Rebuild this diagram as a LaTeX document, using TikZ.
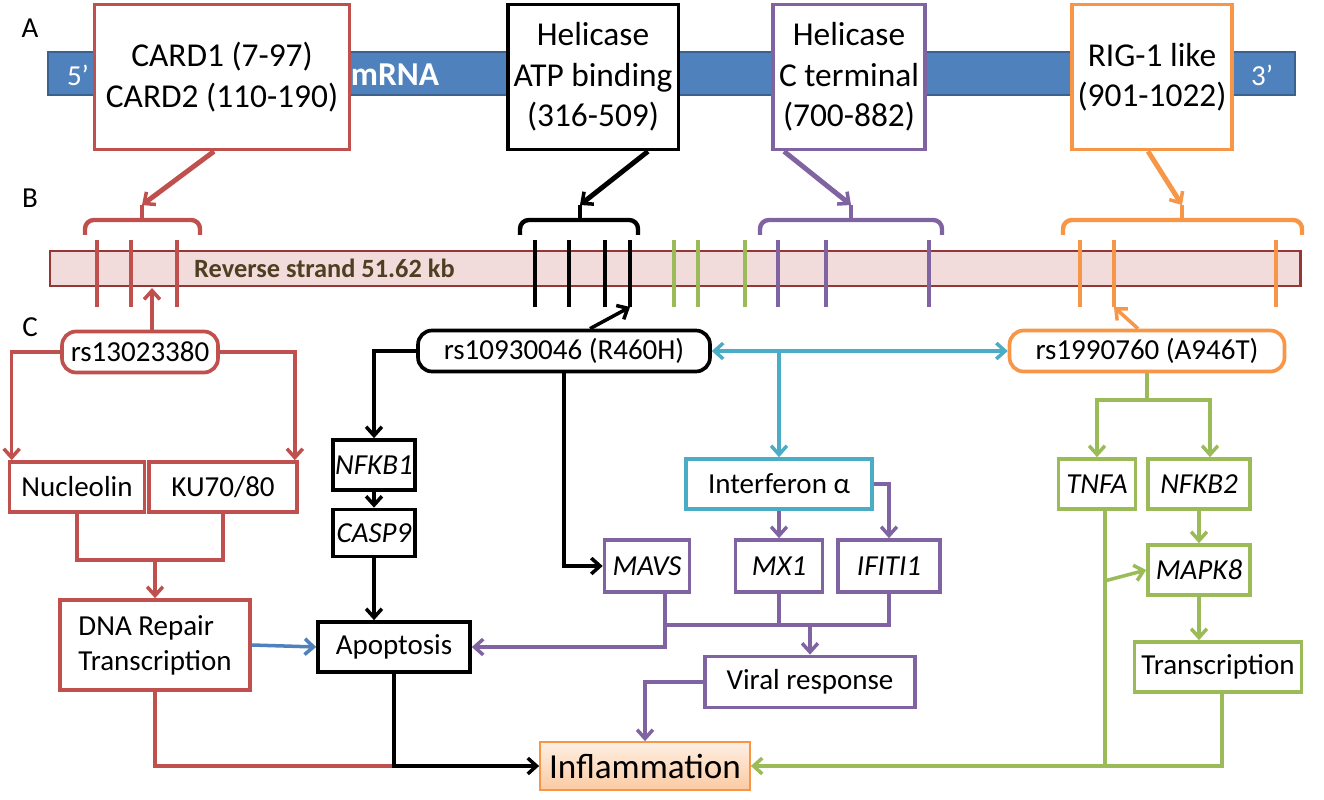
\documentclass[tikz,border=0pt]{standalone}
\usepackage{fontspec}
\setmainfont{Carlito}
\usetikzlibrary{arrows.meta, positioning, calc}
\definecolor{cred}{HTML}{C0504D}
\definecolor{cpurple}{HTML}{8064A2}
\definecolor{corange}{HTML}{F79646}
\definecolor{cgreen}{HTML}{9BBB59}
\definecolor{ccyan}{HTML}{4BACC6}
\definecolor{cblue}{HTML}{4F81BD}
\definecolor{cbar}{HTML}{F2DCDB}
\definecolor{cbarline}{HTML}{953735}
\definecolor{ctext}{HTML}{4F3F22}

\begin{document}
\begin{tikzpicture}[x=0.02cm, y=-0.02cm,
        every node/.style={font=\fontsize{16.5}{20}\selectfont},
        box/.style={draw, line width=2.1pt, fill=white, inner sep=0pt, minimum height=1cm},
        top/.style={draw, line width=2.1pt, fill=white, align=center, font=\fontsize{19}{23}\selectfont},
        conn/.style={line width=2pt, -{Straight Barb[length=5pt, width=9pt, line width=2pt]}},
        tick/.style={line width=2.8pt}
    ]
    \useasboundingbox (0,0) rectangle (1324,800);

    % section labels
    \node (lA) at (30,28) {A};
    \node (lB) at (30,198) {B};
    \node (lC) at (30,327) {C};

    % A: mRNA and domains
    \draw[fill=cblue, draw=cblue!75!black, line width=1pt] (48,52) rectangle (1295,95);
    \node[white] (five) at (78,75) {5’};
    \node[white] (three) at (1262,75) {3’};
    \node[white, font=\fontsize{19}{23}\selectfont\bfseries] (mrna) at (395,75) {mRNA};
    \node[top, draw=cred, minimum width=5.1cm, minimum height=2.9cm] (card) at (222,77) {CARD1 (7-97)\\CARD2 (110-190)};
    \node[top, minimum width=3cm, minimum height=2.9cm] (hatp) at (593,77) {Helicase\\ATP binding\\(316-509)};
    \node[top, draw=cpurple, minimum width=3.04cm, minimum height=2.9cm] (hct) at (849,77) {Helicase\\C terminal\\(700-882)};
    \node[top, draw=corange, minimum width=3.1cm, minimum height=2.9cm] (rig) at (1152,77) {RIG-1 like\\(901-1022)};

    % B: strand with exons
    \draw[fill=cbar, draw=cbarline, line width=1.7pt] (50,251) rectangle (1300,286);
    \node[ctext, font=\fontsize{15}{18}\selectfont\bfseries, anchor=west] (strand) at (188,268) {Reverse strand 51.62 kb};
    \foreach \x in {97,131,177} \draw[tick, cred] (\x,240) -- (\x,307);
    \foreach \x in {535,569,605,630} \draw[tick, black] (\x,240) -- (\x,307);
    \foreach \x in {674,698,745} \draw[tick, cgreen] (\x,240) -- (\x,307);
    \foreach \x in {778,826,929} \draw[tick, cpurple] (\x,240) -- (\x,307);
    \foreach \x in {1080,1114,1276} \draw[tick, corange] (\x,240) -- (\x,307);

    % braces
    \foreach \a/\m/\b/\c/\n in {85/142/200/cred/R, 520/580/638/black/K, 760/851/942/cpurple/P, 1063/1182/1302/corange/O}{
        \draw[\c, line width=2.5pt, rounded corners=5pt] (\a,235) -- (\a,220) -- (\b,220) -- (\b,235);
        \draw[\c, line width=2.5pt] (\m,220) -- (\m,205);
        \coordinate (br\n) at (\m,205);
    }
    \draw[conn, cred, line width=2.8pt] ($(card.south)+(-8,0)$) -- (brR);
    \draw[conn, black, line width=2.8pt] ($(hatp.south)+(55,0)$) -- (brK);
    \draw[conn, cpurple, line width=2.8pt] ($(hct.south)+(-65,0)$) -- (brP);
    \draw[conn, corange, line width=2.8pt] ($(rig.south)+(-4,0)$) -- (brO);

    \coordinate (exR) at (152,288);
    \coordinate (exK) at (630,307);
    \coordinate (exO) at (1114,307);

    % C: SNPs
    \node[box, draw=cred, rounded corners=8pt, minimum width=3.12cm, minimum height=0.82cm] (rs1) at (140,352) {rs13023380};
    \node[box, rounded corners=8pt, minimum width=5.84cm, minimum height=0.82cm] (rs2) at (564,351) {rs10930046 (R460H)};
    \node[box, draw=corange, rounded corners=8pt, minimum width=5.5cm, minimum height=0.82cm] (rs3) at (1147,351) {rs1990760 (A946T)};

    % red branch
    \node[box, draw=cred, minimum width=2.7cm, minimum height=1cm] (nucl) at (77,487) {Nucleolin};
    \node[box, draw=cred, minimum width=2.96cm, minimum height=1cm] (ku) at (223,487) {KU70/80};
    \node[box, draw=cred, minimum width=3.8cm, minimum height=1.8cm, align=left] (dna) at (155,645) {DNA Repair\\Transcription};

    % black branch
    \node[box, minimum width=1.64cm, minimum height=1cm] (nfkb1) at (374,465) {\itshape NFKB1};
    \node[box, minimum width=1.64cm, minimum height=0.94cm] (casp9) at (374,533) {\itshape CASP9};
    \node[box, minimum width=3.04cm, minimum height=1cm] (apop) at (394,647) {Apoptosis};

    % interferon branch
    \node[box, draw=ccyan, minimum width=3.72cm, minimum height=1cm] (ifn) at (779,484) {Interferon α};
    \node[box, draw=cpurple, minimum width=1.7cm, minimum height=1.04cm] (mavs) at (647,566) {\itshape MAVS};
    \node[box, draw=cpurple, minimum width=1.74cm, minimum height=1.04cm] (mx1) at (779,566) {\itshape MX1};
    \node[box, draw=cpurple, minimum width=2.04cm, minimum height=1.04cm] (ifiti) at (889,566) {\itshape IFITI1};
    \node[box, draw=cpurple, minimum width=4.2cm, minimum height=1.02cm] (viral) at (810,682) {Viral response};

    % green branch
    \node[box, draw=cgreen, minimum width=1.54cm, minimum height=1cm] (tnfa) at (1097,484) {\itshape TNFA};
    \node[box, draw=cgreen, minimum width=2.04cm, minimum height=1cm] (nfkb2) at (1199,484) {\itshape NFKB2};
    \node[box, draw=cgreen, minimum width=2.04cm, minimum height=1cm] (mapk8) at (1199,570) {\itshape MAPK8};
    \node[box, draw=cgreen, minimum width=3.34cm, minimum height=1cm] (trans) at (1218,667) {Transcription};

    \node[box, draw=corange, top color=corange!15, bottom color=corange!50, line width=1pt, minimum width=4.2cm, minimum height=0.96cm, font=\fontsize{20}{24}\selectfont] (infl) at (645,766) {Inflammation};

    % connectors: red
    \draw[conn, cred] ($(rs1.north)+(12,0)$) -- (exR);
    \draw[conn, cred] (rs1.west) -| ($(nucl.north west)+(4,0)$);
    \draw[conn, cred] (rs1.east) -| ($(ku.north east)+(-4,0)$);
    \draw[line width=2pt, cred] (nucl.south) |- (ku.south |- 0,560) -- (ku.south);
    \draw[conn, cred] (155,560) -- (dna.north);
    \draw[conn, cblue] (dna.east) -- (apop.west);
    \draw[line width=2pt, cred] (dna.south) |- (394,766);

    % connectors: black
    \draw[conn] ($(rs2.north)+(26,0)$) -- (exK);
    \draw[conn] (rs2.west) -| (nfkb1.north);
    \draw[conn] (nfkb1) -- (casp9);
    \draw[conn] (casp9) -- (apop.north -| casp9);
    \draw[conn] (apop.south) |- (infl.west);
    \draw[conn] (rs2.south) |- (mavs.west);

    % connectors: cyan and purple
    \draw[line width=2pt, ccyan, {Straight Barb[length=5pt, width=9pt, line width=2pt]}-{Straight Barb[length=5pt, width=9pt, line width=2pt]}] (rs2.east) -- (rs3.west);
    \draw[conn, ccyan] (ifn.north |- rs2.east) -- (ifn.north);
    \draw[conn, cpurple] (ifn) -- (mx1);
    \draw[conn, cpurple] (ifn.east) -| (ifiti.north);
    \draw[line width=2pt, cpurple] ($(mavs.south)+(18,0)$) |- (ifiti.south |- 0,625) -- (ifiti.south);
    \draw[line width=2pt, cpurple] (mx1.south) -- (mx1.south |- 0,625);
    \draw[conn, cpurple] ($(mavs.south)+(18,0)$) |- (apop.east);
    \draw[conn, cpurple] (viral.north |- 0,625) -- (viral.north);
    \draw[conn, cpurple] (viral.west) -| (infl.north);

    % connectors: orange and green
    \draw[conn, corange] ($(rs3.north)+(-9,0)$) -- (exO);
    \draw[line width=2pt, cgreen] (rs3.south) -- (1147,400);
    \draw[conn, cgreen] (1147,400) -| (tnfa.north);
    \draw[conn, cgreen] (1147,400) -| ($(nfkb2.north)+(11,0)$);
    \draw[conn, cgreen] (nfkb2) -- (mapk8);
    \draw[conn, cgreen] (mapk8.south) -- (mapk8.south |- trans.north);
    \draw[conn, cgreen] ($(tnfa.south)+(8,0)$) |- (infl.east);
    \draw[conn, cgreen] ($(tnfa.south)+(8,0)+(0,70)$) -- (mapk8.west);
    \draw[line width=2pt, cgreen] ($(trans.south)+(4,0)$) |- (1105,766);
\end{tikzpicture}
\end{document}
